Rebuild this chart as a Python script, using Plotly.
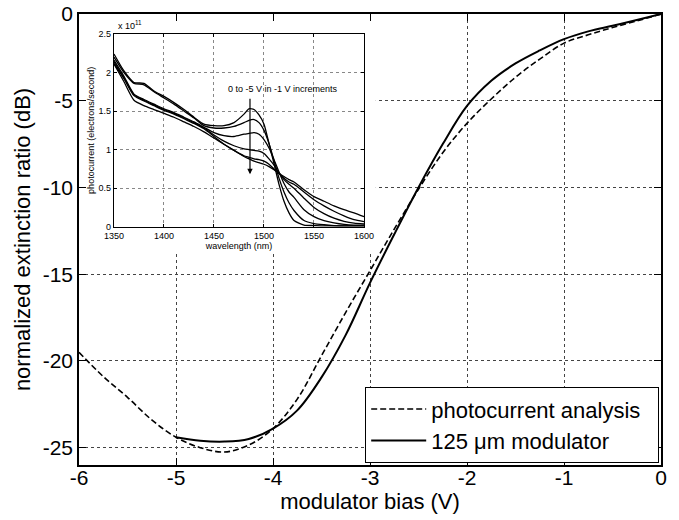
import plotly.graph_objects as go

# ---------------- main chart data ----------------
bias_photocurrent = [-6.0, -5.75, -5.5, -5.25, -5.0, -4.75, -4.5, -4.25, -4.0, -3.75, -3.5,
                     -3.25, -3.0, -2.75, -2.5, -2.25, -2.0, -1.75, -1.5, -1.25, -1.0,
                     -0.75, -0.5, -0.25, 0.0]
er_photocurrent = [-19.5, -20.9, -22.1, -23.4, -24.4, -25.0, -25.25, -24.85, -23.9, -22.2, -19.7,
                   -17.2, -14.8, -12.4, -10.1, -8.0, -6.3, -4.9, -3.65, -2.6, -1.68,
                   -1.2, -0.78, -0.4, 0.0]

bias_modulator = [-5.0, -4.75, -4.5, -4.25, -4.0, -3.75, -3.5, -3.25, -3.0, -2.75, -2.5,
                  -2.25, -2.0, -1.75, -1.5, -1.25, -1.0, -0.75, -0.5, -0.25, 0.0]
er_modulator = [-24.4, -24.6, -24.65, -24.5, -23.9, -22.85, -20.95, -18.5, -15.5, -12.7, -10.0,
                -7.5, -5.3, -3.85, -2.85, -2.1, -1.45, -1.0, -0.68, -0.35, 0.0]

x_tick_vals = [-6, -5, -4, -3, -2, -1, 0]
x_tick_labels = ["-6", "-5", "-4", "-3", "-2", "-1", "0"]
y_tick_vals = [0, -5, -10, -15, -20, -25]
y_tick_labels = ["0", "-5", "-10", "-15", "-20", "-25"]

# ---------------- inset data (photocurrent, x 10^11 electrons/s) ----------------
wavelength_nm = [1350, 1360, 1370, 1380, 1390, 1400, 1410, 1420, 1430, 1440, 1450, 1460, 1470,
                 1480, 1485, 1490, 1495, 1500, 1505, 1510, 1515, 1520, 1525, 1530, 1540, 1550,
                 1560, 1570, 1580, 1590, 1600]
pc_0V = [2.24, 2.02, 1.87, 1.86, 1.76, 1.69, 1.61, 1.52, 1.42, 1.33, 1.31, 1.31, 1.35,
         1.46, 1.53, 1.52, 1.45, 1.33, 1.08, 0.82, 0.55, 0.33, 0.18, 0.08, 0.02, 0.015,
         0.01, 0.01, 0.01, 0.01, 0.01]
pc_m1V = [2.20, 2.00, 1.86, 1.84, 1.75, 1.67, 1.59, 1.50, 1.41, 1.31, 1.28, 1.28, 1.30,
          1.35, 1.38, 1.39, 1.35, 1.25, 1.08, 0.86, 0.63, 0.45, 0.31, 0.21, 0.08, 0.04,
          0.025, 0.015, 0.01, 0.01, 0.01]
pc_m2V = [2.16, 1.95, 1.72, 1.65, 1.59, 1.53, 1.48, 1.42, 1.36, 1.29, 1.22, 1.18, 1.17,
          1.20, 1.21, 1.22, 1.20, 1.13, 1.02, 0.87, 0.71, 0.56, 0.45, 0.38, 0.22, 0.13,
          0.08, 0.05, 0.03, 0.02, 0.02]
pc_m3V = [2.14, 1.93, 1.71, 1.64, 1.58, 1.52, 1.47, 1.41, 1.35, 1.28, 1.19, 1.11, 1.05,
          1.01, 1.00, 0.99, 0.98, 0.95, 0.88, 0.80, 0.70, 0.61, 0.55, 0.50, 0.37, 0.25,
          0.17, 0.11, 0.07, 0.045, 0.035]
pc_m4V = [2.12, 1.92, 1.70, 1.63, 1.57, 1.51, 1.46, 1.40, 1.34, 1.27, 1.17, 1.07, 0.99,
          0.92, 0.90, 0.88, 0.87, 0.85, 0.81, 0.75, 0.69, 0.63, 0.58, 0.55, 0.45, 0.35,
          0.27, 0.20, 0.14, 0.09, 0.065]
pc_m5V = [2.11, 1.88, 1.64, 1.57, 1.52, 1.47, 1.42, 1.36, 1.30, 1.23, 1.15, 1.07, 0.99,
          0.91, 0.88, 0.85, 0.83, 0.81, 0.78, 0.74, 0.69, 0.65, 0.61, 0.58, 0.48, 0.39,
          0.33, 0.27, 0.22, 0.18, 0.13]
inset_series = [pc_0V, pc_m1V, pc_m2V, pc_m3V, pc_m4V, pc_m5V]
inset_names = ["0 V", "-1 V", "-2 V", "-3 V", "-4 V", "-5 V"]

inset_x_ticks = [1350, 1400, 1450, 1500, 1550, 1600]
inset_x_labels = ["1350", "1400", "1450", "1500", "1550", "1600"]
inset_y_ticks = [0, 0.5, 1, 1.5, 2, 2.5]
inset_y_labels = ["0", "0.5", "1", "1.5", "2", "2.5"]

FONT = "Liberation Sans, Arial, sans-serif"

fig = go.Figure()

fig.add_trace(go.Scatter(
    x=bias_photocurrent, y=er_photocurrent, mode="lines",
    name="photocurrent analysis\u00a0\u00a0",
    line=dict(color="black", width=1.6, dash="6px,3px", shape="spline", smoothing=1.0),
    xaxis="x", yaxis="y"))
fig.add_trace(go.Scatter(
    x=bias_modulator, y=er_modulator, mode="lines", name="125 \u03bcm modulator",
    line=dict(color="black", width=2, shape="spline", smoothing=1.0),
    xaxis="x", yaxis="y"))

for ys, nm in zip(inset_series, inset_names):
    fig.add_trace(go.Scatter(
        x=wavelength_nm, y=ys, mode="lines", name=nm, showlegend=False,
        line=dict(color="black", width=1.3, shape="spline", smoothing=0.6),
        xaxis="x2", yaxis="y2"))

axis_common = dict(showline=True, linecolor="black", linewidth=1.6, mirror="ticks",
                   ticks="inside", ticklen=7, tickwidth=1.4, tickcolor="black",
                   showgrid=True, gridcolor="#444", griddash="dot", gridwidth=1.1,
                   zeroline=False, tickfont=dict(size=21, color="black"),
                   automargin=False)

inset_common = dict(showline=True, linecolor="black", linewidth=1.3, mirror="ticks",
                    ticks="inside", ticklen=3, tickwidth=1, tickcolor="black",
                    showgrid=True, gridcolor="#888", griddash="dot", gridwidth=0.8,
                    zeroline=False, tickfont=dict(size=9, color="black"),
                    automargin=False)

ix0, ix1 = 0.0601, 0.4897
iy0, iy1 = 0.5284, 0.9557

fig.update_layout(
    width=679, height=520,
    margin=dict(l=79, r=18, t=14, b=55),
    paper_bgcolor="white", plot_bgcolor="white",
    font=dict(family=FONT, color="black"),
    xaxis=dict(axis_common, range=[-6, 0], tickvals=x_tick_vals, ticktext=x_tick_labels,
               ticklabelstandoff=-7,
               title=dict(text="modulator bias (V)", font=dict(size=22), standoff=4)),
    yaxis=dict(axis_common, range=[-26, 0], tickvals=y_tick_vals, ticktext=y_tick_labels,
               title=dict(text="normalized extinction ratio (dB)", font=dict(size=22), standoff=6)),
    xaxis2=dict(inset_common, domain=[ix0, ix1], anchor="y2", range=[1350, 1600],
                tickvals=inset_x_ticks, ticktext=inset_x_labels,
                title=dict(text="wavelength (nm)", font=dict(size=9), standoff=1)),
    yaxis2=dict(inset_common, domain=[iy0, iy1], anchor="x2", range=[0, 2.5],
                tickvals=inset_y_ticks, ticktext=inset_y_labels,
                title=dict(text="photocurrent (electrons/second)", font=dict(size=9), standoff=2)),
    legend=dict(x=0.4914, y=0.0887, xanchor="left", yanchor="middle",
                bgcolor="white", bordercolor="black", borderwidth=1.2,
                font=dict(size=22, color="black"), itemwidth=55,
                tracegroupgap=0),
    showlegend=True,
)

# white panel behind the inset hiding the main grid (main-axis coordinates)
fig.add_shape(type="rect", xref="x", yref="y",
              x0=-6, x1=-2.94, y0=-13.78, y1=0,
              fillcolor="white", line=dict(width=0), layer="between")

fig.add_annotation(xref="x2", yref="y2", axref="x2", ayref="y2",
                   x=1486, y=0.68, ax=1486, ay=1.68, text="", showarrow=True,
                   arrowhead=2, arrowsize=0.9, arrowwidth=1.2, arrowcolor="black")
fig.add_annotation(xref="x2", yref="y2", x=1519, y=1.79, text="0 to -5 V in -1 V increments",
                   showarrow=False, font=dict(size=9, color="black"))
fig.add_annotation(xref="paper", yref="paper", x=ix0 + 0.003, y=iy1 + 0.002,
                   xanchor="left", yanchor="bottom", text="x 10<sup>11</sup>",
                   showarrow=False, font=dict(size=9, color="black"))

fig.write_html("out.html")
